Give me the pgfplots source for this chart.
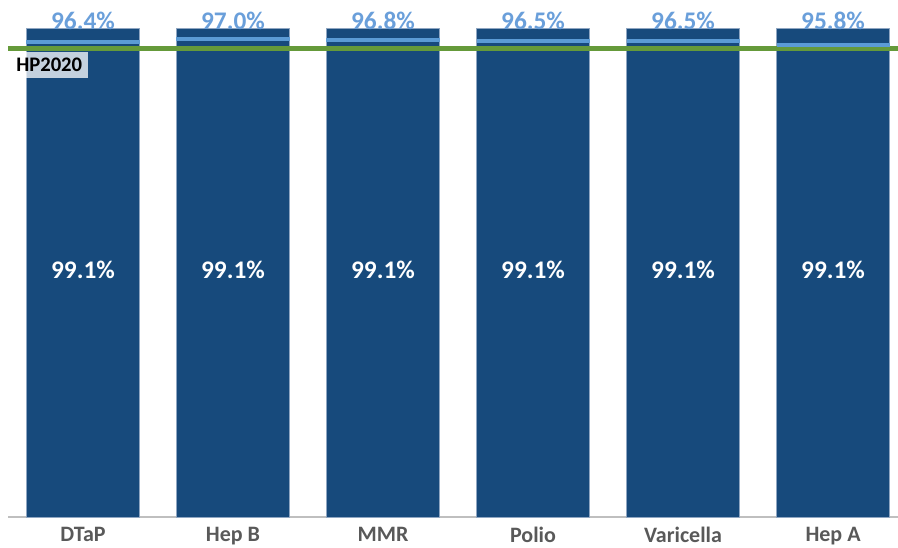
\documentclass[border=0pt]{standalone}
\usepackage{pgfplots}
\pgfplotsset{compat=1.18}
\usepackage{fontspec}
\setmainfont{Carlito}
\definecolor{barblue}{HTML}{174A7C}
\definecolor{baredge}{HTML}{8FA6C2}
\definecolor{lineblue}{HTML}{5B9BD5}
\definecolor{lblblue}{HTML}{6A9FDA}
\definecolor{hpgreen}{HTML}{659A3A}
\definecolor{axgray}{HTML}{BFBFBF}
\definecolor{catgray}{HTML}{595959}
\begin{document}
\begin{tikzpicture}
\begin{axis}[
  at={(0,0)}, anchor=south west,
  scale only axis,
  width=667.5pt, height=387.75pt,
  xmin=-0.5, xmax=5.433,
  ymin=0, ymax=104.9,
  axis y line=none,
  axis x line*=bottom,
  x axis line style={draw=axgray, line width=1.5pt, -},
  xtick={0,1,2,3,4,5},
  xticklabels={DTaP,Hep B,MMR,Polio,Varicella,Hep A},
  major tick length=0pt,
  xticklabel style={font=\fontsize{16.5}{18}\selectfont\bfseries, text=catgray, yshift=-4pt},
  clip=false,
]
% bars
\addplot[ybar, bar width=0.753, fill=barblue, draw=baredge, line width=0.6pt]
  coordinates {(0,99.1) (1,99.1) (2,99.1) (3,99.1) (4,99.1) (5,99.1)};
% second series as light blue lines
\addplot[only marks, mark=-, mark size=42.4pt, mark options={line width=3pt, draw=lineblue}]
  coordinates {(0,96.4) (1,97.0) (2,96.8) (3,96.5) (4,96.5) (5,95.8)};
% HP2020 target line
\addplot[hpgreen, line width=3.75pt, no marks] coordinates {(-0.5,95) (5.433,95)};
% labels in bar middle
\addplot[draw=none, no marks, nodes near coords, point meta=explicit symbolic,
  nodes near coords style={anchor=center, text=white, font=\fontsize{19}{21}\selectfont\bfseries}]
  table[meta=lbl] {
x y lbl
0 50.1 99.1\%
1 50.1 99.1\%
2 50.1 99.1\%
3 50.1 99.1\%
4 50.1 99.1\%
5 50.1 99.1\%
};
% labels above bars
\addplot[draw=none, no marks, nodes near coords, point meta=explicit symbolic,
  nodes near coords style={anchor=center, text=lblblue, font=\fontsize{19}{21}\selectfont\bfseries}]
  table[meta=lbl] {
x y lbl
0 100.6 96.4\%
1 100.6 97.0\%
2 100.6 96.8\%
3 100.6 96.5\%
4 100.6 96.5\%
5 100.6 95.8\%
};
\node[anchor=north west, fill=white, fill opacity=0.75, text opacity=1, inner sep=0pt,
  minimum width=58.5pt, minimum height=19.5pt, text=black,
  font=\fontsize{15.5}{17}\selectfont\bfseries] at (axis cs:-0.487,94.36) {HP2020};
\end{axis}
\pgfresetboundingbox
\path[use as bounding box] (-6pt,-23.25pt) rectangle (667.5pt,387.75pt);
\end{tikzpicture}
\end{document}
